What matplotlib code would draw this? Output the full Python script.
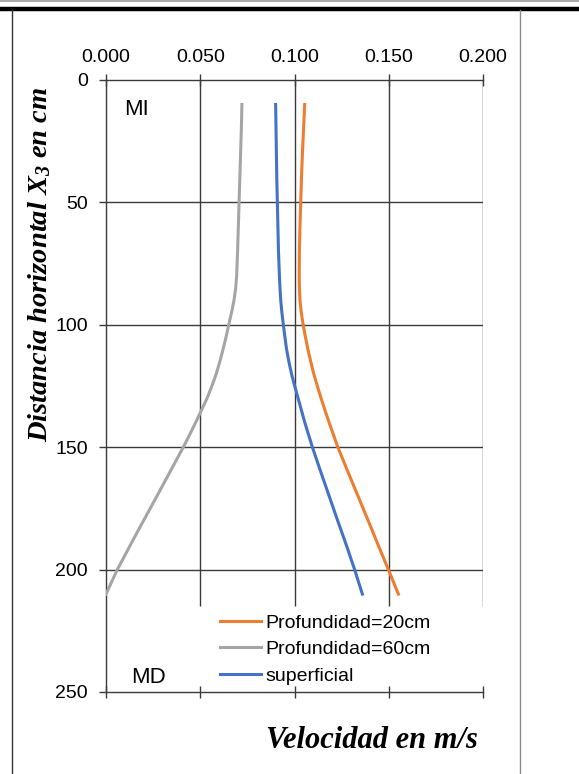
import matplotlib
matplotlib.use('Agg')
import matplotlib.pyplot as plt
from matplotlib.lines import Line2D

# Velocity profiles across the channel (x3 in cm, velocity in m/s)
x3_cm = [10, 20, 30, 40, 50, 60, 70, 80, 85, 90, 95, 100, 105, 110, 115,
         120, 125, 130, 135, 140, 145, 150, 160, 170, 180, 190, 200, 210]
vel_20cm = [0.1054, 0.1048, 0.1042, 0.1037, 0.1033, 0.1029, 0.1026, 0.1025,
            0.1026, 0.1029, 0.1036, 0.1046, 0.1058, 0.1071, 0.1086, 0.1102,
            0.1121, 0.1141, 0.1162, 0.1184, 0.1207, 0.1230, 0.1283, 0.1337,
            0.1391, 0.1444, 0.1498, 0.1551]
vel_60cm = [0.0721, 0.0718, 0.0714, 0.0710, 0.0706, 0.0702, 0.0698, 0.0693,
            0.0688, 0.0679, 0.0666, 0.0651, 0.0637, 0.0621, 0.0604, 0.0585,
            0.0562, 0.0536, 0.0506, 0.0475, 0.0443, 0.0410, 0.0340, 0.0270,
            0.0199, 0.0129, 0.0060, 0.0000]
vel_sup = [0.0900, 0.0902, 0.0904, 0.0906, 0.0909, 0.0912, 0.0915, 0.0920,
           0.0923, 0.0927, 0.0933, 0.0941, 0.0949, 0.0958, 0.0970, 0.0984,
           0.1001, 0.1019, 0.1037, 0.1055, 0.1075, 0.1095, 0.1139, 0.1184,
           0.1229, 0.1275, 0.1319, 0.1360]

series_labels = ['Profundidad=20cm', 'Profundidad=60cm', 'superficial']
x_ticks = [0.0, 0.05, 0.10, 0.15, 0.20]
y_ticks = [0, 50, 100, 150, 200, 250]

COLORS = {
    'orange': '#ED7D31',
    'gray': '#A5A5A5',
    'blue': '#4472C4',
    'grid': '#3A3A3A',
}

plt.rcParams['font.family'] = 'Liberation Sans'
plt.rcParams['mathtext.fontset'] = 'custom'
plt.rcParams['mathtext.rm'] = 'Liberation Serif:bold:italic'
plt.rcParams['mathtext.it'] = 'Liberation Serif:bold:italic'

W, H = 579, 774
fig = plt.figure(figsize=(W / 100, H / 100), dpi=100, facecolor='white')

# page frame lines
fig.add_artist(Line2D([0, 1], [1 - 1 / H, 1 - 1 / H], color='#9A9A9A', lw=1.2))
fig.add_artist(Line2D([0, 1], [1 - 9 / H, 1 - 9 / H], color='black', lw=3.2))
fig.add_artist(Line2D([12 / W, 12 / W], [0, 1 - 10 / H], color='#333333', lw=1.0))
fig.add_artist(Line2D([520 / W, 520 / W], [0, 1 - 10 / H], color='#8A8A8A', lw=1.0))

ax = fig.add_axes([106 / W, 1 - 692 / H, 377 / W, 612 / H])
ax.set_xlim(0, 0.2)
ax.set_ylim(250, 0)

# grid (vertical lines stop above the legend block)
ax.vlines(x_ticks[1:], 0, 215, color=COLORS['grid'], lw=1.0, zorder=1)
ax.hlines(y_ticks[1:-1], 0, 0.2, color=COLORS['grid'], lw=1.0, zorder=1)

ax.plot(vel_20cm, x3_cm, color=COLORS['orange'], lw=2.2, label=series_labels[0], zorder=3)
ax.plot(vel_60cm, x3_cm, color=COLORS['gray'], lw=2.2, label=series_labels[1], zorder=3)
ax.plot(vel_sup, x3_cm, color=COLORS['blue'], lw=2.2, label=series_labels[2], zorder=3)

for side in ['left', 'top', 'bottom']:
    ax.spines[side].set_color(COLORS['grid'])
    ax.spines[side].set_linewidth(1.0)
ax.spines['right'].set_visible(False)

ax.set_xticks(x_ticks)
ax.set_xticklabels([f'{v:.3f}' for v in x_ticks])
ax.set_yticks(y_ticks)
ax.tick_params(axis='x', top=True, bottom=True, labeltop=True, labelbottom=False,
               direction='inout', length=8, width=1.0, color=COLORS['grid'],
               labelsize=14, pad=6)
ax.tick_params(axis='y', left=True, right=False, direction='out', length=5,
               width=1.0, color=COLORS['grid'], labelsize=14, pad=8)

ax.text(0.0164, 12, 'MI', fontsize=16, ha='center', va='center')
ax.text(0.0228, 244, 'MD', fontsize=16, ha='center', va='center')

ax.legend(loc='upper left', bbox_to_anchor=(220 / W, 1 - 614 / H),
          bbox_transform=fig.transFigure, frameon=False, fontsize=14,
          handlelength=2.1, handletextpad=0.25, labelspacing=0.46,
          borderpad=0, borderaxespad=0)

fig.text(40 / W, 1 - 264 / H, r'Distancia horizontal $X_3$ en cm', rotation=90,
         ha='center', va='center', fontsize=20.5, family='Liberation Serif',
         fontweight='bold', style='italic')
fig.text(372 / W, 1 - 740 / H, 'Velocidad en m/s', ha='center', va='center',
         fontsize=22, family='Liberation Serif', fontweight='bold', style='italic')

fig.savefig('out.png', dpi=100, facecolor='white')
